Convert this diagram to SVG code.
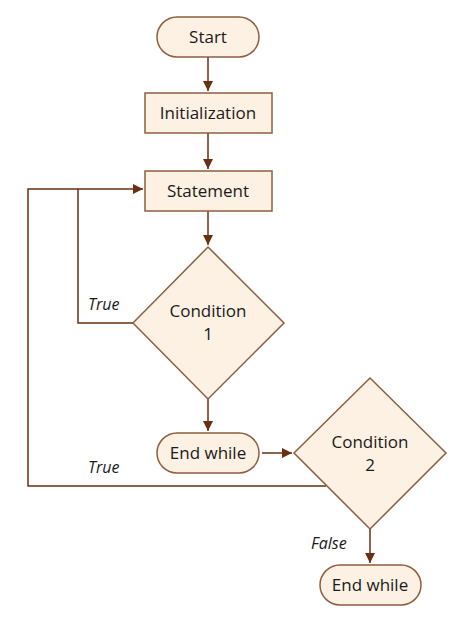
<svg xmlns="http://www.w3.org/2000/svg" width="471" height="629" viewBox="0 0 471 629">
<style>
.n{fill:#fdf1e3;stroke:#8f5e3e;stroke-width:1.5}
.t{font-family:"Open Sans","Noto Sans",sans-serif;font-size:17px;fill:#1a1a1a;text-anchor:middle}
.l{font-family:"Open Sans","Noto Sans",sans-serif;font-size:16px;font-style:italic;fill:#1a1a1a}
.c{fill:none;stroke:#6a2f10;stroke-width:1.5}
</style>
<defs>
<marker id="a" viewBox="0 0 10 10" refX="10" refY="5" markerWidth="10" markerHeight="10" markerUnits="userSpaceOnUse" orient="auto">
<path d="M0,0 L10,5 L0,10 Z" fill="#6a2f10"/>
</marker>
</defs>
<rect width="471" height="629" fill="#ffffff"/>
<g id="connectors">
<line class="c" x1="208" y1="57" x2="208" y2="91" marker-end="url(#a)"/>
<line class="c" x1="208" y1="133" x2="208" y2="169" marker-end="url(#a)"/>
<line class="c" x1="208" y1="211" x2="208" y2="245" marker-end="url(#a)"/>
<polyline class="c" points="133,323 78,323 78,189 143,189" marker-end="url(#a)"/>
<line class="c" x1="208" y1="399" x2="208" y2="431" marker-end="url(#a)"/>
<line class="c" x1="262" y1="453" x2="292" y2="453" marker-end="url(#a)"/>
<polyline class="c" points="326,486 28,486 28,189 78,189"/>
<line class="c" x1="370" y1="529" x2="370" y2="563" marker-end="url(#a)"/>
<text class="l" x="88" y="310">True</text>
<text class="l" x="88" y="473">True</text>
<text class="l" x="311" y="549">False</text>
</g>
<g id="start"><rect class="n" x="157" y="17" width="102" height="40" rx="20"/><text class="t" x="208" y="43">Start</text></g>
<g id="init"><rect class="n" x="145" y="93" width="127" height="40"/><text class="t" x="208" y="119">Initialization</text></g>
<g id="statement"><rect class="n" x="145" y="171" width="127" height="40"/><text class="t" x="208" y="197">Statement</text></g>
<g id="cond1"><polygon class="n" points="208,247 284,323 208,399 133,323"/><text class="t" x="208" y="317">Condition</text><text class="t" x="208" y="340">1</text></g>
<g id="endwhile1"><rect class="n" x="157" y="433" width="102" height="40" rx="20"/><text class="t" x="208" y="459">End while</text></g>
<g id="cond2"><polygon class="n" points="370,378 446,453 370,529 294,453"/><text class="t" x="370" y="448">Condition</text><text class="t" x="370" y="471">2</text></g>
<g id="endwhile2"><rect class="n" x="320" y="565" width="101" height="40" rx="20"/><text class="t" x="370" y="591">End while</text></g>
</svg>
